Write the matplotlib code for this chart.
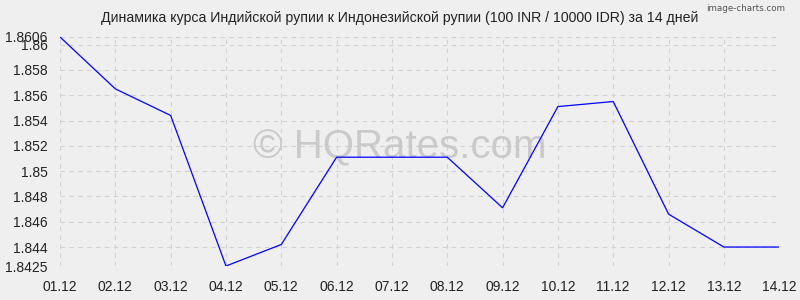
import matplotlib
matplotlib.use("Agg")
import matplotlib.pyplot as plt

dates = ["01.12", "02.12", "03.12", "04.12", "05.12", "06.12", "07.12",
         "08.12", "09.12", "10.12", "11.12", "12.12", "13.12", "14.12"]
rates = [1.8606, 1.8565, 1.8544, 1.8425, 1.8442, 1.8511, 1.8511,
         1.8511, 1.8471, 1.8551, 1.8555, 1.8466, 1.8440, 1.8440]
y_ticks = [1.8425, 1.844, 1.846, 1.848, 1.85, 1.852, 1.854, 1.856, 1.858, 1.86, 1.8606]
y_labels = ["1.8425", "1.844", "1.846", "1.848", "1.85", "1.852", "1.854",
            "1.856", "1.858", "1.86", "1.8606"]
title = "Динамика курса Индийской рупии к Индонезийской рупии (100 INR / 10000 IDR) за 14 дней"

plt.rcParams['font.family'] = ['Liberation Sans', 'DejaVu Sans']
bg = "#efefef"
fig = plt.figure(figsize=(8, 3), dpi=100, facecolor=bg)
ax = fig.add_axes([0.075, 0.1133, 0.899, 0.7634], facecolor=bg)

x = list(range(len(dates)))
ax.plot(x, rates, color="#0000ff", linewidth=0.9, zorder=3)

ax.set_xlim(0, len(dates) - 1)
ax.set_ylim(y_ticks[0], y_ticks[-1])
ax.set_xticks(x)
ax.set_xticklabels(dates, fontsize=10, color="#222222")
ax.set_yticks(y_ticks)
ax.set_yticklabels(y_labels, fontsize=10, color="#222222")
ax.tick_params(axis="both", length=0)
ax.tick_params(axis="y", pad=9)
ax.tick_params(axis="x", pad=10)
for s in ax.spines.values():
    s.set_visible(False)
ax.grid(True, color="#d2d2d2", linestyle=(0, (4, 4)), linewidth=0.8)
ax.set_axisbelow(True)

fig.text(0.5, 0.94, title, ha="center", va="center", fontsize=10.2, color="#222222")
fig.text(0.981, 0.972, "image-charts.com", ha="right", va="center", fontsize=6.3,
         color="#555555", family=["Liberation Sans Narrow", "DejaVu Sans"])
ax.text(0.5, 0.508, "© HQRates.com", transform=fig.transFigure, ha="center", va="center",
        fontsize=29, color="#c4c4c4", alpha=0.85, zorder=2)

fig.savefig("out.png", dpi=100, facecolor=bg)
